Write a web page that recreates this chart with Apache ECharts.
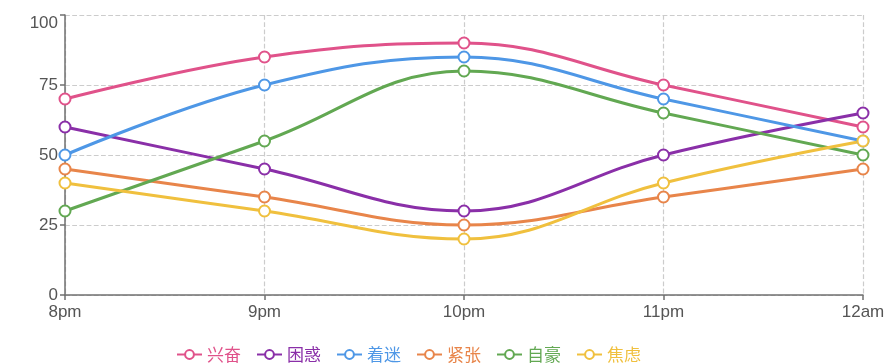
<!DOCTYPE html>
<html><head><meta charset="utf-8">
<script src="https://cdn.jsdelivr.net/npm/echarts@6/dist/echarts.min.js"></script>
<style>html,body{margin:0;padding:0;background:#fff}#c{width:889px;height:364px}</style>
</head><body><div id="c"></div>
<script>
const categories = ['8pm','9pm','10pm','11pm','12am'];
const seriesNames = ['兴奋','困惑','着迷','紧张','自豪','焦虑'];
const excited = [70,85,90,75,60];
const confused = [60,45,30,50,65];
const fascinated = [50,75,85,70,55];
const nervous = [45,35,25,35,45];
const proud = [30,55,80,65,50];
const anxious = [40,30,20,40,55];
const yTicks = [0,25,50,75,100];
const colors = ['#e0528a','#8a2fa8','#4e97e6','#e8854a','#62a852','#f0c03e'];
const values = [excited,confused,fascinated,nervous,proud,anxious];

const chart = echarts.init(document.getElementById('c'));
chart.setOption({
  animation:false,
  color: colors,
  grid:{left:65,right:26,top:15,bottom:69},
  legend:{
    top:341, left:171, itemGap:15, itemWidth:25, itemHeight:11,
    data: seriesNames.map((n,i)=>({name:n, textStyle:{color:colors[i]}})),
    textStyle:{fontSize:17, fontFamily:'Noto Sans CJK SC'}
  },
  xAxis:{
    type:'category', data:categories, boundaryGap:false,
    axisLine:{lineStyle:{color:'#707070',width:1.5}},
    axisTick:{show:true,alignWithLabel:true,length:5,lineStyle:{color:'#707070',width:1.5}},
    axisLabel:{color:'#555',fontSize:17,margin:9,fontFamily:'Liberation Sans'},
    splitLine:{show:true,lineStyle:{type:'dashed',color:'#ccc',width:1.2}}
  },
  yAxis:{
    type:'value', min:0, max:100, interval:25,
    axisLabel:{color:'#555',fontSize:17,margin:7,fontFamily:'Liberation Sans',verticalAlignMaxLabel:'top',formatter:function(v){return String(v);}},
    axisLine:{show:true,lineStyle:{color:'#707070',width:1.5}},
    axisTick:{show:true,length:5,lineStyle:{color:'#707070',width:1.5}},
    splitLine:{show:true,lineStyle:{type:'dashed',color:'#ccc',width:1.2}}
  },
  series: seriesNames.map((n,i)=>({
    name:n, type:'line', data:values[i], smooth:0.4,
    symbol:'emptyCircle', symbolSize:11,
    lineStyle:{width:3},
    itemStyle:{borderWidth:3}
  }))
});
</script></body></html>
